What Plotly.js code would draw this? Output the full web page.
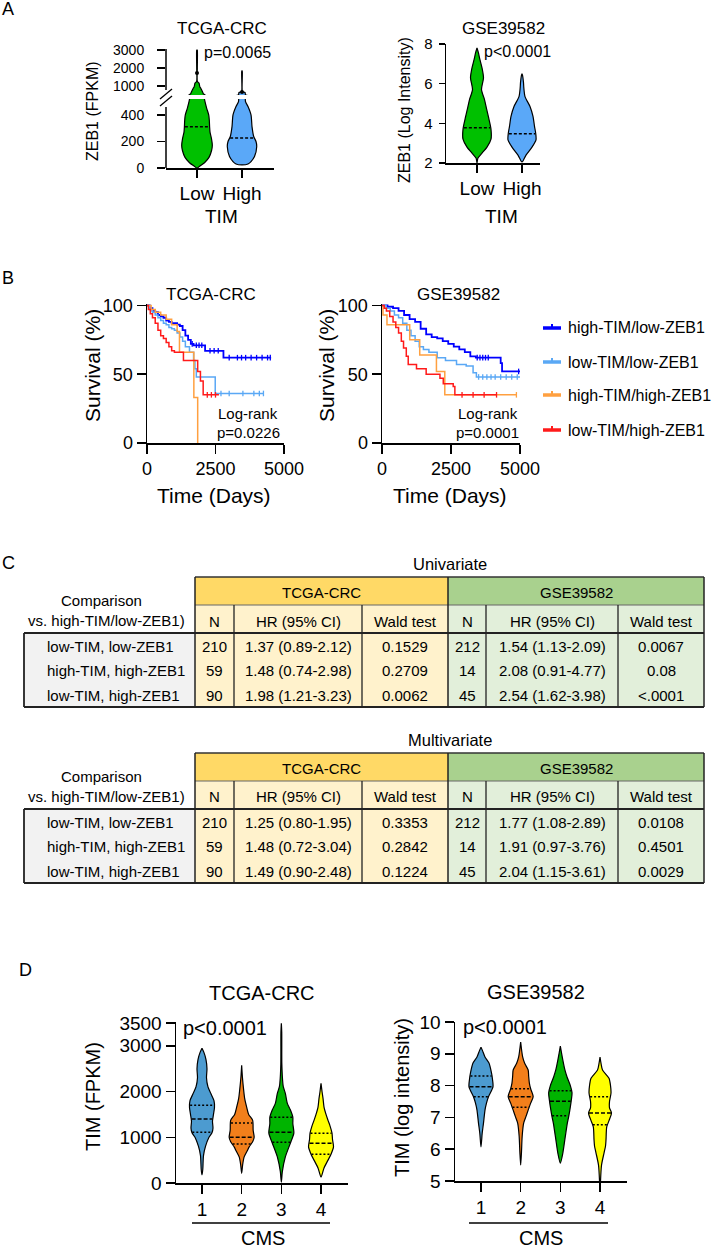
<!DOCTYPE html>
<html><head><meta charset="utf-8">
<script src="https://cdn.plot.ly/plotly-3.0.1.min.js"></script>
<style>html,body{margin:0;padding:0;background:#fff;}#chart{width:716px;height:1248px;}</style>
</head><body><div id="chart"></div>
<script>
// ================= DATA =================
// Panel A: ZEB1 by TIM group; violin outlines = value levels + relative half-width (density)
const tim_categories = ["Low", "High"];
const a_tcga_low_levels  = [0, 15, 40, 80, 130, 170, 220, 270, 310, 360, 400, 450, 500, 560, 680, 850, 960, 1160, 1250, 2000, 2980, 3000];
const a_tcga_low_width   = [0, 3, 7.5, 12, 14.5, 15.3, 14.5, 13, 12.6, 12.3, 11.7, 9.7, 8, 6.5, 5.5, 4, 2.8, 2, 0.4, 0.3, 0.3, 0];
const a_tcga_high_levels = [23, 30, 48, 86, 160, 200, 237, 312, 400, 463, 501, 560, 640, 670, 700, 1800, 1833];
const a_tcga_high_width  = [0, 6, 9, 12.5, 14.7, 14, 11.7, 10, 9, 6, 3.5, 3.3, 3, 1, 0.3, 0.3, 0];
const a_tcga_medians = [310, 226];
const a_tcga_dots = [1720, 667];
const a_tcga_p = "p=0.0065";

const a_gse_low_levels  = [2.0, 2.1, 2.25, 2.5, 2.8, 3.2, 3.7, 4.2, 4.7, 5.2, 5.7, 6.3, 6.8, 7.2, 7.6, 7.8];
const a_gse_low_width   = [0, 0.3, 1, 5, 10, 14, 14, 12, 9.7, 7.5, 4.5, 6.5, 5, 3, 1.2, 0];
const a_gse_high_levels = [2.05, 2.1, 2.4, 2.8, 3.17, 3.5, 3.85, 4.35, 4.85, 5.35, 5.8, 6.05, 6.4, 6.5];
const a_gse_high_width  = [0, 1, 4, 10, 14, 13.7, 12.5, 11, 8, 3, 1.8, 1.5, 0.6, 0];
const a_gse_medians = [3.78, 3.48];
const a_gse_p = "p&lt;0.0001";

// Panel B: Kaplan-Meier survival (days, % surviving) and censor days
const km_groups = ["high-TIM/low-ZEB1", "low-TIM/low-ZEB1", "high-TIM/high-ZEB1", "low-TIM/high-ZEB1"];
const tcga_hl_days = [0,100,200,300,400,500,600,700,800,900,1000,1100,1200,1300,1400,1500,1600,1700,2120,2790,4530];
const tcga_hl_surv = [100,98,96,95,93,92,91,89,88,87,87,86,85,82,78,75,72,71,67,62,62];
const tcga_ll_days = [0,100,200,300,400,500,600,700,800,900,1000,1100,1200,1300,1400,1550,1700,1750,1800,2490,4260];
const tcga_ll_surv = [100,97,95,93,91,89,87,86,84,83,82,80,77,74,70,66,60,54,48,36,36];
const tcga_hh_days = [0,150,300,500,700,900,1100,1185,1710,1850];
const tcga_hh_surv = [100,97,95,93,90,86,81,66,33,0];
const tcga_lh_days = [0,50,120,200,300,400,500,600,700,800,900,1000,1330,1850,1950,2050,2625];
const tcga_lh_surv = [100,97,94,91,87,82,78,76,73,70,67,66,60,52,45,35,35];
const tcga_hl_cens = [1650,1800,1900,2000,2300,2450,2600,3000,3300,3450,3600,3800,4000,4200,4400,4500];
const tcga_ll_cens = [2700,3000,3500,3900,4100,4250];
const tcga_hh_cens = [];
const tcga_lh_cens = [2200,2350,2500];
const tcga_logrank = "p=0.0226";

const gse_hl_days = [0,200,400,600,800,1000,1200,1400,1600,1800,2000,2200,2400,2600,2800,3000,3200,3400,4300,4350,5000];
const gse_hl_surv = [100,99,98,96,93,90,88,83,79,77,76,74,72,70,68,66,63,62,58,52,52];
const gse_ll_days = [0,150,300,450,600,750,900,1050,1200,1350,1500,1700,2000,2300,2700,3050,3300,3420,5000];
const gse_ll_surv = [100,98,96,93,91,87,82,78,74,70,68,66,62,60,57,56,51,48,48];
const gse_hh_days = [0,36,180,1004,1367,1972,2275,4876];
const gse_hh_surv = [100,93,86,75,64,52,35,35];
const gse_lh_days = [0,80,160,280,400,500,600,700,780,880,950,1250,1600,2100,2220,2580,2640,4150];
const gse_lh_surv = [100,98,96,92,88,84,80,74,69,63,57,54,50,47,43,41,35,35];
const gse_hl_cens = [3450,3550,3650,3750,3850,4950];
const gse_ll_cens = [3500,3650,3800,3950,4100,4300,4500,4700,4900];
const gse_hh_cens = [4870];
const gse_lh_cens = [2900,3300,3700,4150];
const gse_logrank = "p=0.0001";

// Panel C: Cox regression tables
const table_cols = ["N", "HR (95% CI)", "Wald test"];
const table_rows = ["low-TIM, low-ZEB1", "high-TIM, high-ZEB1", "low-TIM, high-ZEB1"];
const uni_tcga_N  = ["210", "59", "90"];
const uni_tcga_HR = ["1.37 (0.89-2.12)", "1.48 (0.74-2.98)", "1.98 (1.21-3.23)"];
const uni_tcga_p  = ["0.1529", "0.2709", "0.0062"];
const uni_gse_N   = ["212", "14", "45"];
const uni_gse_HR  = ["1.54 (1.13-2.09)", "2.08 (0.91-4.77)", "2.54 (1.62-3.98)"];
const uni_gse_p   = ["0.0067", "0.08", "&lt;.0001"];
const mul_tcga_N  = ["210", "59", "90"];
const mul_tcga_HR = ["1.25 (0.80-1.95)", "1.48 (0.72-3.04)", "1.49 (0.90-2.48)"];
const mul_tcga_p  = ["0.3353", "0.2842", "0.1224"];
const mul_gse_N   = ["212", "14", "45"];
const mul_gse_HR  = ["1.77 (1.08-2.89)", "1.91 (0.97-3.76)", "2.04 (1.15-3.61)"];
const mul_gse_p   = ["0.0108", "0.4501", "0.0029"];

// Panel D: TIM by CMS subtype
const cms_categories = [1, 2, 3, 4];
const d_tcga_levels = [
  [175,300,600,800,1000,1100,1200,1350,1500,1650,1800,1950,2100,2300,2500,2700,2850,2945],
  [210,400,570,700,790,900,1000,1150,1370,1500,1660,1850,2030,2300,2575],
  [20,250,570,870,1090,1300,1440,1600,1740,1960,2100,2180,2600,3300,3490],
  [130,330,500,630,790,950,1090,1250,1370,1500,1660,1850,2000,2180]
];
const d_tcga_width = [
  [0,0.8,1.5,3.5,7,10,11,10.5,11.5,12.5,12,9,6,4.5,5,4,2,0],
  [0,1,2.5,5.5,7.5,11,12.5,11.5,11,7,5,3,2,0.8,0],
  [0,1,4,9,12.5,11.5,11.5,9,6,4,2,1.5,0.5,0.4,0],
  [0,3,7,10,12.5,11.5,11,9,7,5,3,2,1,0]
];
const d_tcga_quartiles = [[1110,1400,1700],[850,1000,1310],[890,1110,1440],[630,870,1090]];
const d_gse_levels = [
  [6.07,6.5,6.82,7.23,7.45,7.65,7.96,8.2,8.4,8.71,8.9,9.1,9.21],
  [5.5,5.9,6.4,6.82,7.0,7.23,7.45,7.65,7.9,8.08,8.3,8.49,8.7,8.9,9.37],
  [5.56,5.88,6.3,6.82,7.05,7.33,7.55,7.77,8.0,8.27,8.5,8.8,9.24],
  [5.0,5.5,5.88,6.1,6.3,6.7,6.9,7.14,7.3,7.5,7.77,8.0,8.23,8.49,8.7,8.9]
];
const d_gse_width = [
  [0,1.2,2.5,4,5.5,7.5,12,11.5,10.5,8,4,1.5,0],
  [0,0.8,1.5,3,5,7.5,10,12.5,10,8.7,8,7.5,4,2,0],
  [0,2.5,4.5,7,8.5,10,11,11.7,10,6.7,4.5,2.5,0],
  [0.5,1.5,4,5.5,6,6.7,9,11.5,9.5,9.5,11,10.5,9,2.5,1,0]
];
const d_gse_quartiles = [[7.65,7.96,8.3],[7.32,7.65,7.9],[7.05,7.51,7.84],[6.77,7.14,7.65]];

// ================= STYLE / HELPERS =================
const W = 716, H = 1248;
const PX = x => x / W, PY = y => 1 - y / H;
const FONT = "Liberation Sans, Arial, Helvetica, sans-serif";
const A_SCALE = 1 / 45, D_SCALE = 1 / 39.7;
const C_GREEN = "#00C000", C_LBLUE = "#5AA8F8";
const D_COLORS = ["#4C9BD0", "#F27F1B", "#00B400", "#FFFF00"];
const KM_COLORS = ["#0000FF", "#5AA8F5", "#FFA040", "#FF1A1A"];

const traces = [], shapes = [], annotations = [];

function violin(levels, width, center, scale, color, xa, ya) {
  const xs = [], ys = [];
  for (let i = 0; i < levels.length; i++) { xs.push(center + width[i] * scale); ys.push(levels[i]); }
  for (let i = levels.length - 1; i >= 0; i--) { xs.push(center - width[i] * scale); ys.push(levels[i]); }
  traces.push({type: 'scatter', mode: 'lines', x: xs, y: ys, xaxis: xa, yaxis: ya, fill: 'toself',
    fillcolor: color, line: {color: '#000', width: 1.2, shape: 'spline', smoothing: 0.7},
    hoverinfo: 'skip', showlegend: false});
}
function widthAt(levels, width, v) {
  for (let i = 0; i < levels.length - 1; i++) {
    if (v >= levels[i] && v <= levels[i + 1]) {
      const t = (v - levels[i]) / (levels[i + 1] - levels[i]);
      return width[i] + t * (width[i + 1] - width[i]);
    }
  }
  return 0;
}
function qline(levels, width, center, scale, v, dash, xa, ya) {
  const w = widthAt(levels, width, v) * scale * 0.96;
  traces.push({type: 'scatter', mode: 'lines', x: [center - w, center + w], y: [v, v], xaxis: xa, yaxis: ya,
    line: {color: '#000', width: 1.5, dash: dash}, hoverinfo: 'skip', showlegend: false});
}
function stepAt(days, surv, t) {
  let s = surv[0];
  for (let i = 0; i < days.length; i++) if (days[i] <= t) s = surv[i];
  return s;
}
function km(days, surv, cens, color, lw, xa, ya) {
  traces.push({type: 'scatter', mode: 'lines', x: days, y: surv, xaxis: xa, yaxis: ya,
    line: {color: color, width: lw, shape: 'hv'}, hoverinfo: 'skip', showlegend: false});
  if (cens.length) traces.push({type: 'scatter', mode: 'markers', x: cens, y: cens.map(t => stepAt(days, surv, t)),
    xaxis: xa, yaxis: ya, marker: {symbol: 'line-ns-open', size: 4, line: {color: color, width: 1.3}, color: color},
    hoverinfo: 'skip', showlegend: false, cliponaxis: false});
}
function pline(x0, y0, x1, y1, color, width) {
  shapes.push({type: 'line', xref: 'paper', yref: 'paper', x0: PX(x0), y0: PY(y0), x1: PX(x1), y1: PY(y1),
    line: {color: color || '#000', width: width || 1.5}});
}
function prect(x0, y0, x1, y1, fill) {
  shapes.push({type: 'rect', xref: 'paper', yref: 'paper', x0: PX(x0), y0: PY(y1), x1: PX(x1), y1: PY(y0),
    fillcolor: fill, line: {width: 0}});
}
function txt(s, x, y, size, opts) {
  annotations.push(Object.assign({text: s, x: PX(x), y: PY(y), xref: 'paper', yref: 'paper', showarrow: false,
    font: {family: FONT, size: size, color: '#000'}, xanchor: 'center', yanchor: 'middle'}, opts || {}));
}
function ax(domain, range, opts) {
  return Object.assign({domain: domain, range: range, showline: true, linecolor: '#000', linewidth: 1.5,
    ticks: 'outside', tickcolor: '#000', tickwidth: 1.5, ticklen: 8, showgrid: false, zeroline: false,
    fixedrange: true, tickmode: 'array', tickfont: {family: FONT, size: 15, color: '#000'}}, opts);
}

// ================= PANEL A =================
[['y', a_tcga_medians], ['y2', null]].forEach(([ya, med]) => {
  violin(a_tcga_low_levels, a_tcga_low_width, 0, A_SCALE, C_GREEN, 'x', ya);
  violin(a_tcga_high_levels, a_tcga_high_width, 1, A_SCALE, C_LBLUE, 'x', ya);
});
qline(a_tcga_low_levels, a_tcga_low_width, 0, A_SCALE, a_tcga_medians[0], '3px,2px', 'x', 'y');
qline(a_tcga_high_levels, a_tcga_high_width, 1, A_SCALE, a_tcga_medians[1], '3px,2px', 'x', 'y');
traces.push({type: 'scatter', mode: 'markers', x: [0, 1], y: a_tcga_dots, xaxis: 'x', yaxis: 'y2',
  marker: {color: '#000', size: 4}, hoverinfo: 'skip', showlegend: false});

violin(a_gse_low_levels, a_gse_low_width, 0, A_SCALE, C_GREEN, 'x2', 'y3');
violin(a_gse_high_levels, a_gse_high_width, 1, A_SCALE, C_LBLUE, 'x2', 'y3');
qline(a_gse_low_levels, a_gse_low_width, 0, A_SCALE, a_gse_medians[0], '3px,2px', 'x2', 'y3');
qline(a_gse_high_levels, a_gse_high_width, 1, A_SCALE, a_gse_medians[1], '3px,2px', 'x2', 'y3');

// broken y axis lines + break marks
pline(166, 49, 166, 90); pline(166, 107, 166, 168);
pline(160, 99, 172, 89, '#000', 1.3); pline(160, 106, 172, 96, '#000', 1.3);

// ================= PANEL B =================
km(tcga_hl_days, tcga_hl_surv, tcga_hl_cens, KM_COLORS[0], 1.8, 'x3', 'y4');
km(tcga_ll_days, tcga_ll_surv, tcga_ll_cens, KM_COLORS[1], 1.5, 'x3', 'y4');
km(tcga_hh_days, tcga_hh_surv, tcga_hh_cens, KM_COLORS[2], 1.5, 'x3', 'y4');
km(tcga_lh_days, tcga_lh_surv, tcga_lh_cens, KM_COLORS[3], 1.5, 'x3', 'y4');
km(gse_hl_days, gse_hl_surv, gse_hl_cens, KM_COLORS[0], 1.8, 'x4', 'y5');
km(gse_ll_days, gse_ll_surv, gse_ll_cens, KM_COLORS[1], 1.5, 'x4', 'y5');
km(gse_hh_days, gse_hh_surv, gse_hh_cens, KM_COLORS[2], 1.5, 'x4', 'y5');
km(gse_lh_days, gse_lh_surv, gse_lh_cens, KM_COLORS[3], 1.5, 'x4', 'y5');

// legend
const legY = [328, 362, 395, 430];
km_groups.forEach((g, i) => {
  pline(543, legY[i], 561, legY[i], KM_COLORS[i], 3.5);
  pline(552, legY[i] - 4, 552, legY[i], KM_COLORS[i], 2);
  txt(g, 566, legY[i], 16, {xanchor: 'left'});
});

// ================= PANEL C (tables) =================
function drawTable(top, title, tcga, gse) {
  const h2 = top + 28, h3 = top + 56, bot = top + 130, rowH = 74 / 3;
  prect(195, top, 448, h2, '#FFD966');
  prect(448, top, 704, h2, '#A9D18E');
  prect(195, h2, 448, bot, '#FFF2CC');
  prect(448, h2, 704, bot, '#E2EFDA');
  prect(24, h3, 195, bot, '#F2F2F2');
  pline(195, top, 704, top, '#333', 1.5);
  pline(195, h2, 704, h2, '#666', 1);
  pline(24, h3, 704, h3, '#222', 1.8);
  pline(24, bot, 704, bot, '#222', 1.8);
  pline(24, h3, 24, bot, '#222', 1.8);
  [195, 448, 704].forEach(x => pline(x, top, x, bot, '#222', 1.5));
  [234, 362, 486, 618].forEach(x => pline(x, h2, x, bot, '#222', 1.3));
  txt(title, 450, top - 13, 16.5);
  txt("Comparison", 102, top + 23, 15);
  txt("vs. high-TIM/low-ZEB1)", 106, top + 43, 15);
  txt("TCGA-CRC", 321, top + 15, 15);
  txt("GSE39582", 576, top + 15, 15);
  const centers = [214.5, 298, 405, 467, 552, 661];
  table_cols.concat(table_cols).forEach((c, i) => txt(c, centers[i], h2 + 16, 15));
  table_rows.forEach((r, i) => {
    const y = h3 + 13 + i * rowH;
    txt(r, 45, y, 15, {xanchor: 'left'});
    [tcga.N[i], tcga.HR[i], tcga.p[i], gse.N[i], gse.HR[i], gse.p[i]].forEach((v, j) => txt(v, centers[j], y, 15));
  });
}
drawTable(577, "Univariate", {N: uni_tcga_N, HR: uni_tcga_HR, p: uni_tcga_p}, {N: uni_gse_N, HR: uni_gse_HR, p: uni_gse_p});
drawTable(753, "Multivariate", {N: mul_tcga_N, HR: mul_tcga_HR, p: mul_tcga_p}, {N: mul_gse_N, HR: mul_gse_HR, p: mul_gse_p});

// ================= PANEL D =================
cms_categories.forEach((c, i) => {
  violin(d_tcga_levels[i], d_tcga_width[i], c, D_SCALE, D_COLORS[i], 'x5', 'y6');
  const q = d_tcga_quartiles[i];
  qline(d_tcga_levels[i], d_tcga_width[i], c, D_SCALE, q[0], '2px,2px', 'x5', 'y6');
  qline(d_tcga_levels[i], d_tcga_width[i], c, D_SCALE, q[1], '4px,2px', 'x5', 'y6');
  qline(d_tcga_levels[i], d_tcga_width[i], c, D_SCALE, q[2], '2px,2px', 'x5', 'y6');
  violin(d_gse_levels[i], d_gse_width[i], c, D_SCALE, D_COLORS[i], 'x6', 'y7');
  const g = d_gse_quartiles[i];
  qline(d_gse_levels[i], d_gse_width[i], c, D_SCALE, g[0], '2px,2px', 'x6', 'y7');
  qline(d_gse_levels[i], d_gse_width[i], c, D_SCALE, g[1], '4px,2px', 'x6', 'y7');
  qline(d_gse_levels[i], d_gse_width[i], c, D_SCALE, g[2], '2px,2px', 'x6', 'y7');
});
pline(192, 1223, 330, 1223, '#000', 1.3);
pline(469, 1223, 608, 1223, '#000', 1.3);

// ================= TEXT =================
txt("A", 8, 9, 18); txt("B", 8, 278, 18); txt("C", 8, 563, 18); txt("D", 25, 970, 18);
txt("TCGA-CRC", 222, 28, 17); txt("GSE39582", 503, 28, 17);
txt(a_tcga_p, 237, 53, 16); txt(a_gse_p, 517, 52, 16);
txt("ZEB1 (FPKM)", 92, 111, 16, {textangle: -90});
txt("ZEB1 (Log Intensity)", 404, 110, 16, {textangle: -90});
txt("TIM", 221, 216, 19); txt("TIM", 501, 216, 19);

txt("TCGA-CRC", 211, 294, 17); txt("GSE39582", 458, 294, 17);
txt("Survival (%)", 92, 366, 21, {textangle: -90});
txt("Survival (%)", 326, 366, 21, {textangle: -90});
txt("Time (Days)", 214, 496, 21); txt("Time (Days)", 450, 496, 21);
txt("Log-rank", 248, 413, 15); txt(tcga_logrank, 248, 432, 15);
txt("Log-rank", 488, 413, 15); txt(gse_logrank, 488, 432, 15);

txt("TCGA-CRC", 262, 993, 20); txt("GSE39582", 536, 992, 20);
txt("p&lt;0.0001", 225, 1028, 20); txt("p&lt;0.0001", 505, 1027, 20);
txt("TIM (FPKM)", 93, 1096, 20, {textangle: -90});
txt("TIM (log intensity)", 402, 1098, 20, {textangle: -90});
txt("CMS", 263, 1238, 20); txt("CMS", 541, 1238, 20);

// ================= LAYOUT =================
const layout = {
  width: W, height: H, margin: {l: 0, r: 0, t: 0, b: 0}, paper_bgcolor: '#fff', plot_bgcolor: 'rgba(0,0,0,0)',
  showlegend: false, font: {family: FONT, color: '#000'},
  xaxis: ax([PX(166), PX(274)], [-0.689, 1.711], {anchor: 'y', tickvals: [0, 1], ticktext: tim_categories, tickfont: {family: FONT, size: 19, color: '#000'}}),
  yaxis: ax([PY(168), PY(99)], [0, 520], {anchor: 'x', tickvals: [0, 200, 400], showline: false, tickfont: {family: FONT, size: 14, color: '#000'}, ticklabelstandoff: 10}),
  yaxis2: ax([PY(95), PY(49)], [500, 3050], {anchor: 'x', tickvals: [1000, 2000, 3000], showline: false, tickfont: {family: FONT, size: 14, color: '#000'}, ticklabelstandoff: 10}),
  xaxis2: ax([PX(446), PX(540)], [-0.689, 1.4], {anchor: 'y3', tickvals: [0, 1], ticktext: tim_categories, tickfont: {family: FONT, size: 19, color: '#000'}}),
  yaxis3: ax([PY(163), PY(44)], [2, 8], {anchor: 'x2', tickvals: [2, 4, 6, 8], ticklen: 6, ticklabelstandoff: 3}),
  xaxis3: ax([PX(147), PX(284)], [0, 5000], {anchor: 'y4', tickvals: [0, 2500, 5000], ticklen: 9, tickfont: {family: FONT, size: 18, color: '#000'}}),
  yaxis4: ax([PY(443), PY(304)], [0, 101], {anchor: 'x3', tickvals: [0, 50, 100], ticklen: 9, tickfont: {family: FONT, size: 18, color: '#000'}}),
  xaxis4: ax([PX(382), PX(520)], [0, 5000], {anchor: 'y5', tickvals: [0, 2500, 5000], ticklen: 9, tickfont: {family: FONT, size: 18, color: '#000'}}),
  yaxis5: ax([PY(443), PY(304)], [0, 101], {anchor: 'x4', tickvals: [0, 50, 100], ticklen: 9, tickfont: {family: FONT, size: 18, color: '#000'}}),
  xaxis5: ax([PX(176), PX(348)], [0.345, 4.68], {anchor: 'y6', tickvals: cms_categories, ticktext: cms_categories.map(String), ticklen: 9, tickfont: {family: FONT, size: 19, color: '#000'}}),
  yaxis6: ax([PY(1183), PY(1022)], [0, 3520], {anchor: 'x5', tickvals: [0, 1000, 2000, 3000, 3500], ticklen: 9, tickfont: {family: FONT, size: 19, color: '#000'}}),
  xaxis6: ax([PX(455), PX(627)], [0.345, 4.68], {anchor: 'y7', tickvals: cms_categories, ticktext: cms_categories.map(String), ticklen: 9, tickfont: {family: FONT, size: 19, color: '#000'}}),
  yaxis7: ax([PY(1181), PY(1022)], [5, 10], {anchor: 'x6', tickvals: [5, 6, 7, 8, 9, 10], ticklen: 9, tickfont: {family: FONT, size: 19, color: '#000'}}),
  shapes: shapes, annotations: annotations
};
Plotly.newPlot('chart', traces, layout, {displayModeBar: false, staticPlot: true});
</script>
</body></html>
